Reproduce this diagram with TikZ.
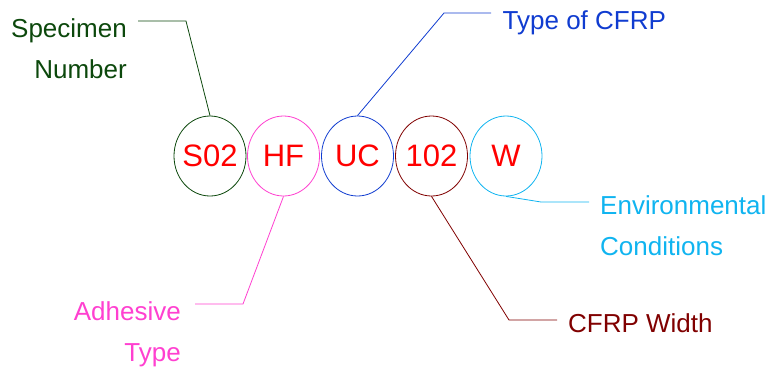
\documentclass[tikz,border=0pt]{standalone}
\usepackage{fontspec}
\setmainfont{Liberation Sans}
\usetikzlibrary{shapes.geometric,calc}
\definecolor{cgreen}{RGB}{12,72,12}
\definecolor{cpink}{RGB}{255,64,208}
\definecolor{cblue}{RGB}{16,60,208}
\definecolor{csky}{RGB}{16,180,240}
\definecolor{cdred}{RGB}{128,0,0}
\definecolor{cred}{RGB}{255,0,0}
\begin{document}
\begin{tikzpicture}[x=1pt,y=-1pt,
  code/.style={draw=#1,ellipse,line width=0.8pt,minimum width=72pt,minimum height=80pt,inner sep=0pt,
    text=cred,font=\fontsize{31}{31}\selectfont},
  lbl/.style={text=#1,inner sep=0pt,font=\fontsize{26}{41}\selectfont},
  conn/.style={draw=#1,line width=0.8pt}]
\useasboundingbox (0,0) rectangle (769,370);
% code ellipses
\node[code=cgreen] (s02) at (210,156) {\makebox[0pt]{S02}};
\node[code=cpink]  (hf)  at (283.5,156) {\makebox[0pt]{HF}};
\node[code=cblue]  (uc)  at (357.5,156) {\makebox[0pt]{UC}};
\node[code=cdred]  (n102) at (431.5,156) {\makebox[0pt]{102}};
\node[code=csky]   (w)   at (506,156) {\makebox[0pt]{W}};
% labels (base anchor = baseline of the last line)
\node[lbl=cgreen,align=right,anchor=base east] (lspec) at (127,78) {Specimen\\Number};
\node[lbl=cblue,anchor=base west] (ltype) at (502.5,29.5) {Type of CFRP};
\node[lbl=csky,align=left,anchor=base west] (lenv) at (600,255.5) {Environmental\\Conditions};
\node[lbl=cpink,align=right,anchor=base east] (ladh) at (181,361) {Adhesive\\Type};
\node[lbl=cdred,anchor=base west] (lwid) at (568,332) {CFRP Width};
% connector points
\coordinate (bs) at (186,21);  \coordinate (es) at (138,21);
\coordinate (bt) at (444,13);  \coordinate (et) at (491,13);
\coordinate (ba) at (243,304); \coordinate (ea) at (195,304);
\coordinate (bw) at (509,320); \coordinate (ew) at (557,320);
\coordinate (be) at (541,202); \coordinate (ee) at (589,202);
% connectors
\draw[conn=cgreen] (s02.north) -- (bs) -- (es);
\draw[conn=cblue] (uc.north) -- (bt) -- (et);
\draw[conn=cpink] (hf.south) -- (ba) -- (ea);
\draw[conn=cdred] (n102.south) -- (bw) -- (ew);
\draw[conn=csky] (w.south) -- (be) -- (ee);
\end{tikzpicture}
\end{document}
